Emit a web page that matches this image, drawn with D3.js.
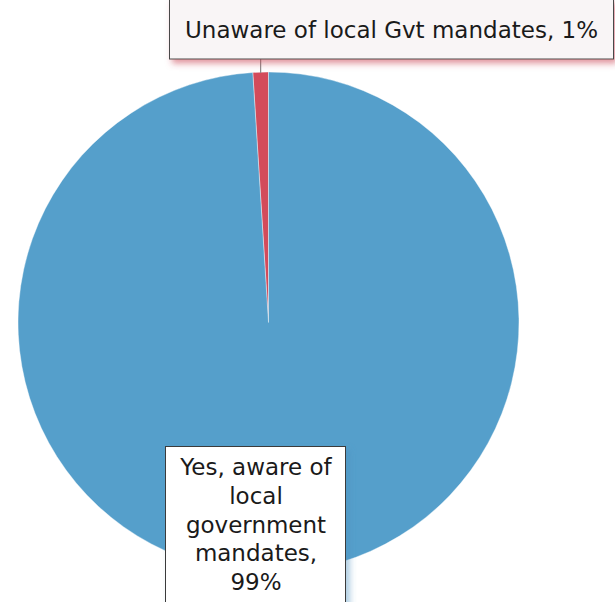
<!DOCTYPE html>
<html>
<head>
<meta charset="utf-8">
<script src="https://cdn.jsdelivr.net/npm/d3@7"></script>
<style>
  html, body { margin: 0; padding: 0; background: #fff; }
  svg { display: block; }
</style>
</head>
<body>
<svg id="chart" width="615" height="602"></svg>
<script>
// Survey answers: awareness of local government mandates
const categories = ["Unaware of local Gvt mandates", "Yes, aware of local government mandates"];
const values = [1, 99];
const colors = ["#d34b5b", "#559fcb"];

const svg = d3.select("#chart");
const cx = 268.5, cy = 322.5, R = 250.5;
const font = "'DejaVu Sans', sans-serif";

const defs = svg.append("defs");
const redShadow = defs.append("filter").attr("id", "redShadow")
  .attr("x", "-10%").attr("y", "-20%").attr("width", "130%").attr("height", "160%");
redShadow.append("feDropShadow").attr("dx", 3).attr("dy", 4).attr("stdDeviation", 3)
  .attr("flood-color", "#c9404f").attr("flood-opacity", 0.55);
const blueShadow = defs.append("filter").attr("id", "blueShadow")
  .attr("x", "-20%").attr("y", "-20%").attr("width", "150%").attr("height", "150%");
blueShadow.append("feDropShadow").attr("dx", 4).attr("dy", 3).attr("stdDeviation", 3)
  .attr("flood-color", "#4a90c0").attr("flood-opacity", 0.45);

// Pie slices: the small slice sits just counter-clockwise of 12 o'clock
const total = d3.sum(values);
const startAngle = -2 * Math.PI * values[0] / total;
const pie = d3.pie().sort(null).startAngle(startAngle).endAngle(startAngle + 2 * Math.PI);
const arcs = pie(values);
const arc = d3.arc().innerRadius(0).outerRadius(R);

const g = svg.append("g").attr("transform", `translate(${cx},${cy})`);
g.selectAll("path").data(arcs).join("path")
  .attr("d", arc)
  .attr("fill", (d, i) => colors[i])
  .attr("stroke", "#ffffff").attr("stroke-opacity", 0.5).attr("stroke-width", 0.8);

// Leader line from the small slice up to its label
const mid = (arcs[0].startAngle + arcs[0].endAngle) / 2;
const lx = cx + R * Math.sin(mid);
svg.append("line")
  .attr("x1", lx).attr("y1", cy - R + 1)
  .attr("x2", lx).attr("y2", 59)
  .attr("stroke", "#8a8a8a").attr("stroke-width", 1.2);

// Label for the 1% slice
svg.append("rect")
  .attr("x", 169.5).attr("y", -1).attr("width", 444).attr("height", 60)
  .attr("fill", "#f9f5f6").attr("stroke", "#4a4a4a").attr("stroke-width", 1)
  .attr("filter", "url(#redShadow)");
svg.append("text")
  .attr("x", 391.5).attr("y", 38)
  .attr("text-anchor", "middle")
  .attr("font-family", font).attr("font-size", 23).attr("fill", "#1a1a1a")
  .text(`${categories[0]}, ${values[0]}%`);

// Label for the 99% slice
svg.append("rect")
  .attr("x", 165.5).attr("y", 446.5).attr("width", 180).attr("height", 160)
  .attr("fill", "#ffffff").attr("stroke", "#3a3a3a").attr("stroke-width", 1)
  .attr("filter", "url(#blueShadow)");
const lines = ["Yes, aware of", "local", "government", "mandates,", `${values[1]}%`];
svg.append("text")
  .attr("text-anchor", "middle")
  .attr("font-family", font).attr("font-size", 23).attr("fill", "#1a1a1a")
  .selectAll("tspan").data(lines).join("tspan")
  .attr("x", 256).attr("y", (d, i) => 475 + i * 28.8)
  .text(d => d);
</script>
</body>
</html>
